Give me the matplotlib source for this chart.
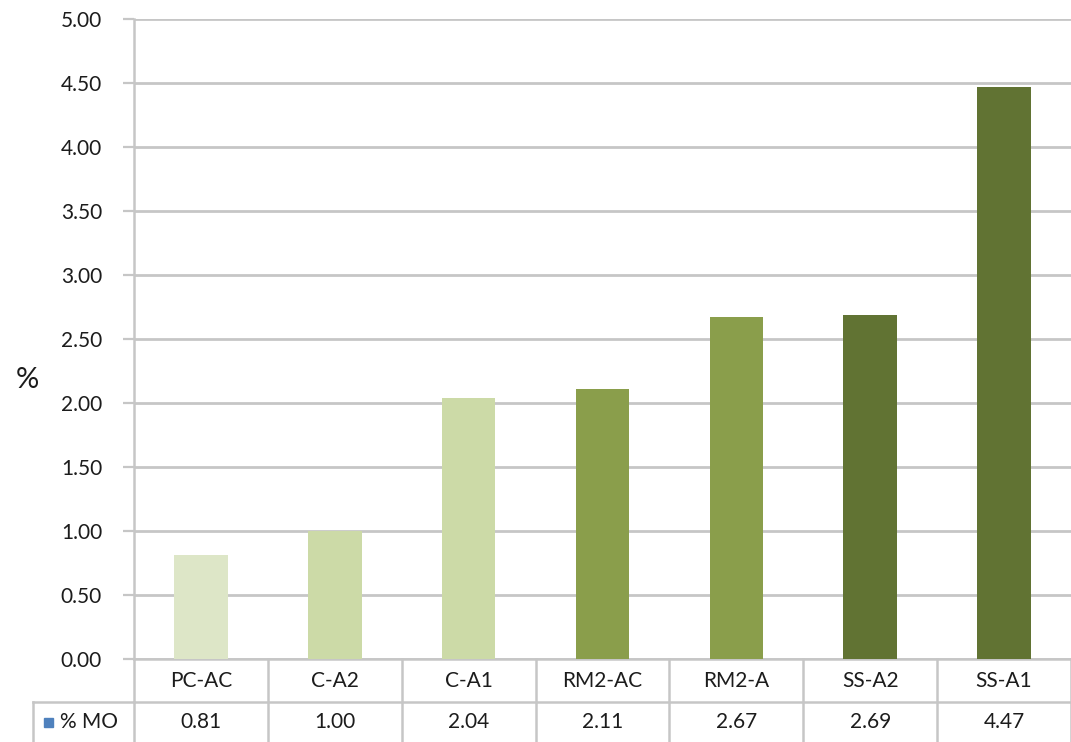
import matplotlib
matplotlib.use("Agg")
import matplotlib.pyplot as plt
from matplotlib.transforms import blended_transform_factory

categories = ["PC-AC", "C-A2", "C-A1", "RM2-AC", "RM2-A", "SS-A2", "SS-A1"]
mo_values = [0.81, 1.00, 2.04, 2.11, 2.67, 2.69, 4.47]
value_labels = ["0.81", "1.00", "2.04", "2.11", "2.67", "2.69", "4.47"]
bar_colors = ["#dde6c7", "#ccdaa7", "#ccdaa7", "#8a9e4b", "#8a9e4b", "#617333", "#617333"]
yticks = [0.0, 0.5, 1.0, 1.5, 2.0, 2.5, 3.0, 3.5, 4.0, 4.5, 5.0]
series_name = "% MO"

plt.rcParams["font.family"] = ["Lato", "DejaVu Sans"]

W, H = 1071, 742
fig = plt.figure(figsize=(W / 100, H / 100), dpi=100)
ax_left, ax_right, ax_top, ax_bottom = 134, 1071, 19, 659
ax = fig.add_axes([ax_left / W, 1 - ax_bottom / H, (ax_right - ax_left) / W, (ax_bottom - ax_top) / H])

grid_c = "#c6c6c6"
txt_c = "#1c1c1c"
fs = 15
x = list(range(len(categories)))
ax.bar(x, mo_values, width=0.40, color=bar_colors, zorder=3)
ax.set_xlim(-0.5, len(categories) - 0.5)
ax.set_ylim(0, 5.0)
ax.set_yticks(yticks)
ax.set_yticklabels([f"{t:.2f}" for t in yticks], fontsize=fs, color=txt_c)
ax.yaxis.grid(True, color=grid_c, linewidth=2.0, zorder=0)
ax.tick_params(axis="y", length=8, width=1.6, color=grid_c, pad=15)
ax.set_xticks([])
for s in ["top", "right"]:
    ax.spines[s].set_visible(False)
ax.spines["left"].set_color(grid_c)
ax.spines["left"].set_linewidth(1.8)
ax.spines["bottom"].set_color(grid_c)
ax.spines["bottom"].set_linewidth(1.8)

fig.text(27 / W, 1 - 380 / H, "%", fontsize=21, ha="center", va="center", color=txt_c)

# data table below the axis
tr = blended_transform_factory(ax.transData, fig.transFigure)
def fy(py):
    return 1 - py / H

row_split = 702
for i in range(len(categories) + 1):
    xb = i - 0.5
    ax.plot([xb, xb], [fy(ax_bottom), fy(H)], transform=tr, color=grid_c, lw=1.8, clip_on=False)
ax.plot([-0.5, len(categories) - 0.5], [fy(row_split), fy(row_split)], transform=tr,
        color=grid_c, lw=1.8, clip_on=False)
fig.add_artist(plt.Line2D([33 / W, ax_left / W], [fy(row_split), fy(row_split)], color=grid_c, lw=1.8))
fig.add_artist(plt.Line2D([33 / W, 33 / W], [fy(row_split), 0], color=grid_c, lw=1.8))

for i, (c, v) in enumerate(zip(categories, value_labels)):
    ax.text(i, fy(681), c, transform=tr, ha="center", va="center", fontsize=fs, color=txt_c)
    ax.text(i, fy(722), v, transform=tr, ha="center", va="center", fontsize=fs, color=txt_c)

fig.add_artist(plt.Rectangle((44 / W, fy(727)), 9 / W, 9 / H, color="#4f81bd", transform=fig.transFigure))
fig.text(60 / W, fy(722), series_name, fontsize=fs, ha="left", va="center", color=txt_c)

fig.savefig("out.png", dpi=100)
